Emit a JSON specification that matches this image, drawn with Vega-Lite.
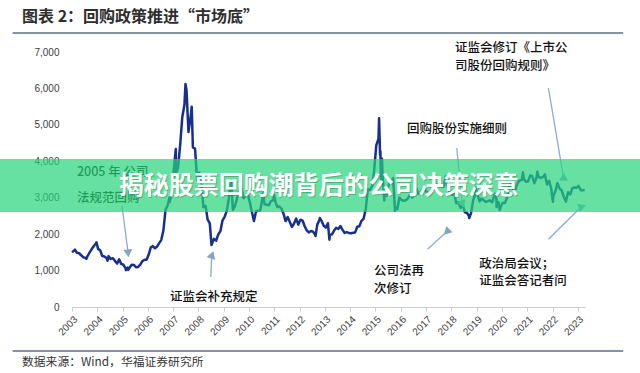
{
  "$schema": "https://vega.github.io/schema/vega-lite/v6.json",
  "autosize": {"type": "none"},
  "padding": {"left": 72, "top": 52, "right": 55, "bottom": 66},
  "width": 513,
  "height": 255,
  "background": "#ffffff",
  "config": {"view": {"stroke": null}},
  "resolve": {"axis": {"x": "independent", "y": "independent"}},
  "datasets": {
    "idx": [
      {"d":"2003-01-01","v":1540},{"d":"2003-01-13","v":1521},{"d":"2003-02-13","v":1576},{"d":"2003-03-13","v":1487},{"d":"2003-04-13","v":1476},{"d":"2003-05-13","v":1421},{"d":"2003-06-13","v":1367},{"d":"2003-07-13","v":1348},{"d":"2003-07-28","v":1320},{"d":"2003-08-13","v":1398},{"d":"2003-09-13","v":1497},{"d":"2003-10-13","v":1590},{"d":"2003-11-13","v":1675},{"d":"2003-12-13","v":1742},{"d":"2003-12-20","v":1775},
      {"d":"2004-01-13","v":1595},{"d":"2004-02-13","v":1555},{"d":"2004-03-13","v":1399},{"d":"2004-04-13","v":1386},{"d":"2004-05-13","v":1342},{"d":"2004-05-28","v":1270},{"d":"2004-06-13","v":1396},{"d":"2004-07-13","v":1320},{"d":"2004-08-13","v":1340},{"d":"2004-09-13","v":1266},{"d":"2004-10-13","v":1191},{"d":"2004-11-13","v":1306},{"d":"2004-12-13","v":1181},
      {"d":"2005-01-13","v":1159},{"d":"2005-02-13","v":1060},{"d":"2005-02-18","v":1010},{"d":"2005-03-13","v":1080},{"d":"2005-03-23","v":1020},{"d":"2005-04-13","v":1083},{"d":"2005-05-13","v":1162},{"d":"2005-06-13","v":1155},{"d":"2005-07-13","v":1092},{"d":"2005-08-13","v":1099},{"d":"2005-09-13","v":1161},{"d":"2005-10-13","v":1258},{"d":"2005-11-13","v":1299},{"d":"2005-12-13","v":1298},
      {"d":"2006-01-13","v":1440},{"d":"2006-02-13","v":1641},{"d":"2006-03-13","v":1672},{"d":"2006-04-13","v":1612},{"d":"2006-05-13","v":1658},{"d":"2006-06-13","v":1753},{"d":"2006-07-13","v":1837},{"d":"2006-08-13","v":2099},{"d":"2006-09-13","v":2675},{"d":"2006-10-13","v":2786},{"d":"2006-11-08","v":3000},{"d":"2006-11-13","v":2881},{"d":"2006-12-13","v":3183},
      {"d":"2007-01-13","v":3841},{"d":"2007-02-08","v":4335},{"d":"2007-02-14","v":3670},{"d":"2007-03-13","v":3820},{"d":"2007-04-13","v":4471},{"d":"2007-05-13","v":5218},{"d":"2007-06-13","v":5552},{"d":"2007-06-28","v":6124},{"d":"2007-07-13","v":5954},{"d":"2007-08-10","v":4803},{"d":"2007-09-13","v":5262},{"d":"2007-09-26","v":5497},{"d":"2007-10-13","v":4383},{"d":"2007-11-13","v":4348},{"d":"2007-12-13","v":3473},
      {"d":"2008-01-13","v":3693},{"d":"2008-02-13","v":3433},{"d":"2008-03-13","v":2736},{"d":"2008-04-13","v":2775},{"d":"2008-05-13","v":2397},{"d":"2008-06-13","v":2293},{"d":"2008-07-08","v":1700},{"d":"2008-07-13","v":1729},{"d":"2008-08-13","v":1871},{"d":"2008-09-13","v":1821},{"d":"2008-10-13","v":1991},{"d":"2008-11-13","v":2082},{"d":"2008-12-13","v":2373},
      {"d":"2009-01-13","v":2477},{"d":"2009-02-13","v":2632},{"d":"2009-03-13","v":2959},{"d":"2009-04-13","v":3412},{"d":"2009-04-16","v":3478},{"d":"2009-05-13","v":2667},{"d":"2009-06-13","v":2779},{"d":"2009-07-13","v":2996},{"d":"2009-08-13","v":3195},{"d":"2009-09-13","v":3277},{"d":"2009-10-13","v":2989},{"d":"2009-11-13","v":3051},{"d":"2009-12-13","v":3110},
      {"d":"2010-01-13","v":2870},{"d":"2010-02-13","v":2592},{"d":"2010-03-13","v":2360},{"d":"2010-04-13","v":2638},{"d":"2010-05-13","v":2638},{"d":"2010-06-13","v":2655},{"d":"2010-07-13","v":2979},{"d":"2010-07-21","v":3159},{"d":"2010-08-13","v":2820},{"d":"2010-09-13","v":2808},{"d":"2010-10-13","v":2791},{"d":"2010-11-13","v":2905},{"d":"2010-12-13","v":2928},{"d":"2010-12-29","v":3067},
      {"d":"2011-01-13","v":2911},{"d":"2011-02-13","v":2743},{"d":"2011-03-13","v":2762},{"d":"2011-04-13","v":2701},{"d":"2011-05-13","v":2568},{"d":"2011-06-13","v":2359},{"d":"2011-07-13","v":2468},{"d":"2011-08-13","v":2333},{"d":"2011-09-13","v":2199},{"d":"2011-10-13","v":2292},{"d":"2011-11-13","v":2428},{"d":"2011-12-13","v":2262},
      {"d":"2012-01-13","v":2396},{"d":"2012-02-13","v":2373},{"d":"2012-03-13","v":2225},{"d":"2012-04-13","v":2103},{"d":"2012-05-13","v":2047},{"d":"2012-06-13","v":2086},{"d":"2012-07-13","v":2069},{"d":"2012-08-13","v":1980},{"d":"2012-08-18","v":1949},{"d":"2012-09-13","v":2269},{"d":"2012-10-13","v":2385},{"d":"2012-10-19","v":2444},{"d":"2012-11-13","v":2366},{"d":"2012-12-13","v":2237},
      {"d":"2013-01-13","v":2178},{"d":"2013-02-13","v":2301},{"d":"2013-03-07","v":1849},{"d":"2013-03-13","v":1979},{"d":"2013-04-13","v":1994},{"d":"2013-05-13","v":2098},{"d":"2013-06-13","v":2175},{"d":"2013-07-13","v":2141},{"d":"2013-08-13","v":2221},{"d":"2013-09-13","v":2116},{"d":"2013-10-13","v":2033},{"d":"2013-11-13","v":2056},{"d":"2013-12-13","v":2033},
      {"d":"2014-01-13","v":2026},{"d":"2014-02-13","v":2039},{"d":"2014-03-13","v":2048},{"d":"2014-04-13","v":2202},{"d":"2014-05-13","v":2217},{"d":"2014-06-13","v":2364},{"d":"2014-07-13","v":2420},{"d":"2014-08-13","v":2683},{"d":"2014-09-13","v":3235},{"d":"2014-10-13","v":3210},{"d":"2014-11-13","v":3310},{"d":"2014-12-13","v":3748},
      {"d":"2015-01-13","v":4442},{"d":"2015-02-13","v":4612},{"d":"2015-02-22","v":5178},{"d":"2015-03-08","v":4190},{"d":"2015-03-13","v":4277},{"d":"2015-03-20","v":3507},{"d":"2015-04-05","v":4070},{"d":"2015-04-13","v":3664},{"d":"2015-05-08","v":2927},{"d":"2015-05-13","v":3206},{"d":"2015-06-13","v":3053},{"d":"2015-07-13","v":3383},{"d":"2015-08-13","v":3446},{"d":"2015-09-13","v":3539},{"d":"2015-10-10","v":2638},{"d":"2015-10-13","v":2738},{"d":"2015-11-13","v":2688},{"d":"2015-12-13","v":3004},
      {"d":"2016-01-13","v":2938},{"d":"2016-02-13","v":2917},{"d":"2016-03-13","v":2930},{"d":"2016-04-13","v":2979},{"d":"2016-05-13","v":3085},{"d":"2016-06-13","v":3005},{"d":"2016-07-13","v":3100},{"d":"2016-08-13","v":3250},{"d":"2016-09-13","v":3104},{"d":"2016-10-13","v":3159},{"d":"2016-11-13","v":3242},{"d":"2016-12-13","v":3223},
      {"d":"2017-01-13","v":3155},{"d":"2017-02-13","v":3117},{"d":"2017-03-13","v":3192},{"d":"2017-04-13","v":3273},{"d":"2017-05-13","v":3361},{"d":"2017-06-13","v":3349},{"d":"2017-07-13","v":3393},{"d":"2017-08-13","v":3317},{"d":"2017-09-13","v":3307},{"d":"2017-10-11","v":3587},{"d":"2017-10-13","v":3481},{"d":"2017-11-13","v":3259},{"d":"2017-12-13","v":3169},
      {"d":"2018-01-13","v":3082},{"d":"2018-02-13","v":3095},{"d":"2018-03-13","v":2847},{"d":"2018-04-13","v":2876},{"d":"2018-05-13","v":2725},{"d":"2018-06-13","v":2821},{"d":"2018-07-13","v":2603},{"d":"2018-08-13","v":2588},{"d":"2018-09-13","v":2494},{"d":"2018-09-16","v":2440},{"d":"2018-10-13","v":2585},{"d":"2018-11-13","v":2941},{"d":"2018-12-13","v":3091},{"d":"2018-12-19","v":3288},
      {"d":"2019-01-13","v":3078},{"d":"2019-02-13","v":2899},{"d":"2019-03-13","v":2979},{"d":"2019-04-13","v":2932},{"d":"2019-05-13","v":2886},{"d":"2019-06-13","v":2905},{"d":"2019-07-13","v":2929},{"d":"2019-08-13","v":2871},{"d":"2019-09-13","v":3050},{"d":"2019-09-26","v":3106},{"d":"2019-10-13","v":2977},{"d":"2019-10-16","v":2746},{"d":"2019-11-13","v":2880},{"d":"2019-11-30","v":2660},{"d":"2019-12-13","v":2750},
      {"d":"2020-01-13","v":2860},{"d":"2020-02-13","v":2852},{"d":"2020-03-13","v":2985},{"d":"2020-04-13","v":3310},{"d":"2020-05-13","v":3396},{"d":"2020-06-13","v":3218},{"d":"2020-07-13","v":3225},{"d":"2020-08-13","v":3392},{"d":"2020-09-13","v":3473},{"d":"2020-10-13","v":3483},{"d":"2020-10-31","v":3696},{"d":"2020-11-13","v":3509},{"d":"2020-12-13","v":3441},
      {"d":"2021-01-13","v":3447},{"d":"2021-02-13","v":3615},{"d":"2021-03-13","v":3591},{"d":"2021-04-13","v":3397},{"d":"2021-05-13","v":3544},{"d":"2021-05-26","v":3715},{"d":"2021-06-13","v":3568},{"d":"2021-07-13","v":3547},{"d":"2021-08-13","v":3564},{"d":"2021-09-13","v":3640},{"d":"2021-10-13","v":3361},{"d":"2021-11-13","v":3462},{"d":"2021-12-13","v":3252},
      {"d":"2022-01-06","v":2886},{"d":"2022-01-13","v":3047},{"d":"2022-02-13","v":3186},{"d":"2022-03-13","v":3399},{"d":"2022-04-13","v":3253},{"d":"2022-05-13","v":3202},{"d":"2022-06-13","v":3024},{"d":"2022-07-13","v":2893},{"d":"2022-08-13","v":3151},{"d":"2022-09-13","v":3089},{"d":"2022-10-13","v":3255},{"d":"2022-11-13","v":3280},{"d":"2022-12-13","v":3273},
      {"d":"2023-01-13","v":3323},{"d":"2023-02-13","v":3205},{"d":"2023-03-13","v":3202},{"d":"2023-04-10","v":3210}
    ],
    "ann": [
      {"t":"2005 年  公司","d":"2003-03-14","v":3706},
      {"t":"法规范回购","d":"2003-03-14","v":2992},
      {"t":"证监会补充规定","d":"2006-11-16","v":275},
      {"t":"公司法再","d":"2014-12-12","v":988},
      {"t":"次修订","d":"2014-12-12","v":494},
      {"t":"政治局会议；","d":"2019-02-06","v":1180},
      {"t":"证监会答记者问","d":"2019-02-06","v":714},
      {"t":"回购股份实施细则","d":"2016-04-02","v":4886},
      {"t":"证监会修订《上市公","d":"2018-02-24","v":7110},
      {"t":"司股份回购规则》","d":"2018-02-24","v":6616}
    ],
    "arr": [
      {"id":"a1","x":"2004-12-23","y":2773,"hx":"2005-03-20","hy":1510},
      {"id":"a2","x":"2008-06-27","y":824,"hx":"2008-07-11","hy":1400},
      {"id":"a3","x":"2017-01-21","y":1584,"hx":"2017-11-07","hy":2086},
      {"id":"a4","x":"2021-11-03","y":1858,"hx":"2023-02-18","hy":2745},
      {"id":"a5","x":"2018-03-20","y":4365,"hx":"2018-06-06","hy":2855},
      {"id":"a6","x":"2021-11-03","y":6012,"hx":"2022-06-10","hy":3541}
    ],
    "frame": [
      {"x":"2000-08-27","x2":"2024-10-18","y":7522},
      {"x":"2000-08-27","x2":"2024-10-18","y":-1208}
    ]
  },
  "layer": [
    {
      "data": {"name": "idx"},
      "mark": {"type": "line", "color": "#17308f", "strokeWidth": 2.5, "strokeJoin": "round"},
      "encoding": {
        "x": {"field": "d", "type": "temporal",
          "scale": {"domain": [{"year": 2003, "month": 1, "date": 1}, {"year": 2023, "month": 4, "date": 15}], "nice": false},
          "axis": {"title": null, "format": "%Y", "labelAngle": -45, "tickCount": {"interval": "year", "step": 1}, "grid": false,
            "domainColor": "#cccccc", "tickColor": "#cccccc", "tickSize": 4, "labelFontSize": 10, "labelFont": "Liberation Sans",
            "labelColor": "#404040", "labelPadding": 3, "labelOverlap": false, "labelFlush": false}},
        "y": {"field": "v", "type": "quantitative",
          "scale": {"domain": [0, 7000], "nice": false, "zero": true},
          "axis": {"title": null, "values": [0, 1000, 2000, 3000, 4000, 5000, 6000, 7000], "format": ",.0f", "grid": false, "domain": false,
            "ticks": false, "labelPadding": 13, "labelFontSize": 10, "labelFont": "Liberation Sans", "labelColor": "#404040"}}
      }
    },
    {
      "data": {"name": "arr"},
      "mark": {"type": "rule", "color": "#8eaacb", "strokeWidth": 1.3},
      "encoding": {
        "x": {"field": "x", "type": "temporal", "axis": null},
        "x2": {"field": "hx"},
        "y": {"field": "y", "type": "quantitative", "axis": null},
        "y2": {"field": "hy"}
      }
    },
    {
      "data": {"name": "arr"},
      "mark": {"type": "point", "shape": "triangle", "filled": true, "color": "#86a3c6", "size": 80, "opacity": 1},
      "encoding": {
        "x": {"field": "hx", "type": "temporal", "axis": null},
        "y": {"field": "hy", "type": "quantitative", "axis": null},
        "angle": {"field": "id", "type": "nominal", "legend": null,
          "scale": {"domain": ["a1", "a2", "a3", "a4", "a5", "a6"], "range": [174, 2, 48, 46, 174, 170]}}
      }
    },
    {
      "data": {"name": "ann"},
      "mark": {"type": "text", "align": "left", "baseline": "middle", "font": "Noto Sans CJK SC", "fontSize": 12.5, "fontWeight": 500, "color": "#111111"},
      "encoding": {
        "x": {"field": "d", "type": "temporal", "axis": null},
        "y": {"field": "v", "type": "quantitative", "axis": null},
        "text": {"field": "t"}
      }
    },
    {
      "data": {"name": "frame"},
      "mark": {"type": "rule", "color": "#8593a6", "strokeWidth": 1.8},
      "encoding": {
        "x": {"field": "x", "type": "temporal", "axis": null},
        "x2": {"field": "x2"},
        "y": {"field": "y", "type": "quantitative", "axis": null}
      }
    },
    {
      "data": {"values": [{"t": "图表 2：回购政策推进“市场底”", "d": "2001-01-09", "v": 7961}]},
      "mark": {"type": "text", "align": "left", "baseline": "middle", "font": "Noto Sans CJK SC", "fontSize": 16, "fontWeight": "bold", "color": "#2e2e2e"},
      "encoding": {
        "x": {"field": "d", "type": "temporal", "axis": null},
        "y": {"field": "v", "type": "quantitative", "axis": null},
        "text": {"field": "t"}
      }
    },
    {
      "data": {"values": [{"t": "数据来源：Wind，华福证券研究所", "d": "2001-01-09", "v": -1510}]},
      "mark": {"type": "text", "align": "left", "baseline": "middle", "font": "Noto Sans CJK SC", "fontSize": 11.8, "color": "#333333"},
      "encoding": {
        "x": {"field": "d", "type": "temporal", "axis": null},
        "y": {"field": "v", "type": "quantitative", "axis": null},
        "text": {"field": "t"}
      }
    },
    {
      "data": {"values": [{"x": "2000-02-25", "x2": "2025-06-21", "y": 2608, "y2": 4063}]},
      "mark": {"type": "rect", "color": "#27d47a", "opacity": 0.7},
      "encoding": {
        "x": {"field": "x", "type": "temporal", "axis": null},
        "x2": {"field": "x2"},
        "y": {"field": "y", "type": "quantitative", "axis": null},
        "y2": {"field": "y2"}
      }
    },
    {
      "data": {"values": [{"t": "揭秘股票回购潮背后的公司决策深意", "d": "2012-10-02", "v": 3322}]},
      "mark": {"type": "text", "align": "center", "baseline": "middle", "font": "Noto Sans CJK SC", "fontSize": 25, "fontWeight": "bold", "color": "#1d5e3a", "opacity": 0.35, "dx": 1, "dy": 1.5},
      "encoding": {
        "x": {"field": "d", "type": "temporal", "axis": null},
        "y": {"field": "v", "type": "quantitative", "axis": null},
        "text": {"field": "t"}
      }
    },
    {
      "data": {"values": [{"t": "揭秘股票回购潮背后的公司决策深意", "d": "2012-10-02", "v": 3322}]},
      "mark": {"type": "text", "align": "center", "baseline": "middle", "font": "Noto Sans CJK SC", "fontSize": 25, "fontWeight": "bold", "color": "#ffffff"},
      "encoding": {
        "x": {"field": "d", "type": "temporal", "axis": null},
        "y": {"field": "v", "type": "quantitative", "axis": null},
        "text": {"field": "t"}
      }
    }
  ]
}
